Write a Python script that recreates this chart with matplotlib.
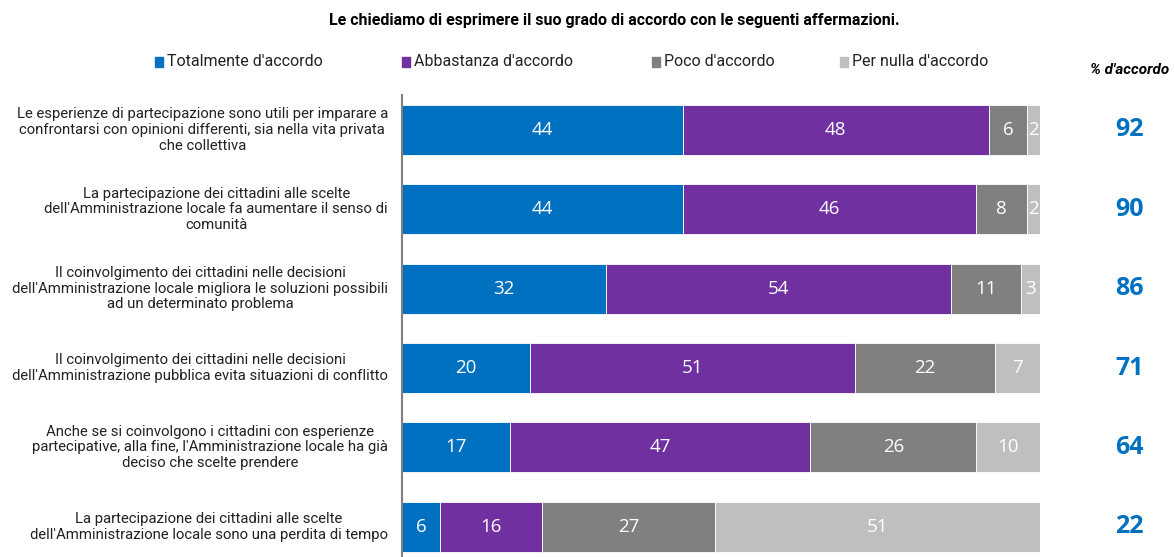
import numpy as np
import matplotlib.pyplot as plt

# Dati
affermazioni = [
    "Le esperienze di partecipazione sono utili per imparare a\nconfrontarsi con opinioni differenti, sia nella vita privata\nche collettiva",
    "La partecipazione dei cittadini alle scelte\ndell'Amministrazione locale fa aumentare il senso di\ncomunità",
    "Il coinvolgimento dei cittadini nelle decisioni\ndell'Amministrazione locale migliora le soluzioni possibili\nad un determinato problema",
    "Il coinvolgimento dei cittadini nelle decisioni\ndell'Amministrazione pubblica evita situazioni di conflitto",
    "Anche se si coinvolgono i cittadini con esperienze\npartecipative, alla fine, l'Amministrazione locale ha già\ndeciso che scelte prendere",
    "La partecipazione dei cittadini alle scelte\ndell'Amministrazione locale sono una perdita di tempo",
]
categorie = ["Totalmente d'accordo", "Abbastanza d'accordo", "Poco d'accordo", "Per nulla d'accordo"]
totalmente = [44, 44, 32, 20, 17, 6]
abbastanza = [48, 46, 54, 51, 47, 16]
poco = [6, 8, 11, 22, 26, 27]
per_nulla = [2, 2, 3, 7, 10, 51]
perc_accordo = [92, 90, 86, 71, 64, 22]

colori = ['#0070C0', '#7030A0', '#808080', '#BFBFBF']

plt.rcParams['font.family'] = ['Roboto', 'DejaVu Sans']

W, H = 1174, 557
fig = plt.figure(figsize=(W / 100, H / 100), dpi=100)
ax = fig.add_axes([402 / W, 0, (1040 - 402) / W, (H - 95) / H])

serie = [totalmente, abbastanza, poco, per_nulla]
y = np.arange(len(affermazioni))
left = np.zeros(len(affermazioni))
for vals, col, nome in zip(serie, colori, categorie):
    vals = np.array(vals)
    ax.barh(y, vals, left=left, height=0.63, color=col, edgecolor='white', linewidth=0.6, label=nome)
    for yi, l, v in zip(y, left, vals):
        ax.text(l + v / 2, yi, str(v), ha='center', va='center', color='white',
                fontsize=13.5, family=['Open Sans', 'DejaVu Sans'])
    left += vals

ax.set_xlim(0, 100)
ax.set_ylim(5.38, -0.44)
ax.set_xticks([])
ax.set_yticks([])
for s in ['top', 'right', 'bottom']:
    ax.spines[s].set_visible(False)
ax.spines['left'].set_color('#808080')
ax.spines['left'].set_linewidth(1.5)

# etichette a sinistra
for yi, testo in zip(y, affermazioni):
    ax.text(-2.2, yi, testo, ha='right', va='center', multialignment='center',
            fontsize=10.7, color='#222222', linespacing=1.15)

# % d'accordo
for yi, p in zip(y, perc_accordo):
    ax.text(114, yi, str(p), ha='center', va='center', color='#0070C0',
            fontsize=18, fontweight='bold', family=['Open Sans', 'DejaVu Sans'])
fig.text(1130 / W, 1 - 70 / H, "% d'accordo", ha='center', va='center',
         fontsize=11, fontweight='bold', style='italic')

fig.text(614 / W, 1 - 20 / H, "Le chiediamo di esprimere il suo grado di accordo con le seguenti affermazioni.",
         ha='center', va='center', fontsize=11.5, fontweight='bold')

# legenda
leg_x = [155, 402, 652, 840]
for lx, col, nome in zip(leg_x, colori, categorie):
    fig.patches.append(plt.Rectangle((lx / W, 1 - 67 / H), 8 / W, 10 / H, color=col,
                                     transform=fig.transFigure, figure=fig))
    fig.text((lx + 12) / W, 1 - 62 / H, nome, ha='left', va='center', fontsize=11.5, color='#222222')

fig.savefig('out.png', dpi=100)
